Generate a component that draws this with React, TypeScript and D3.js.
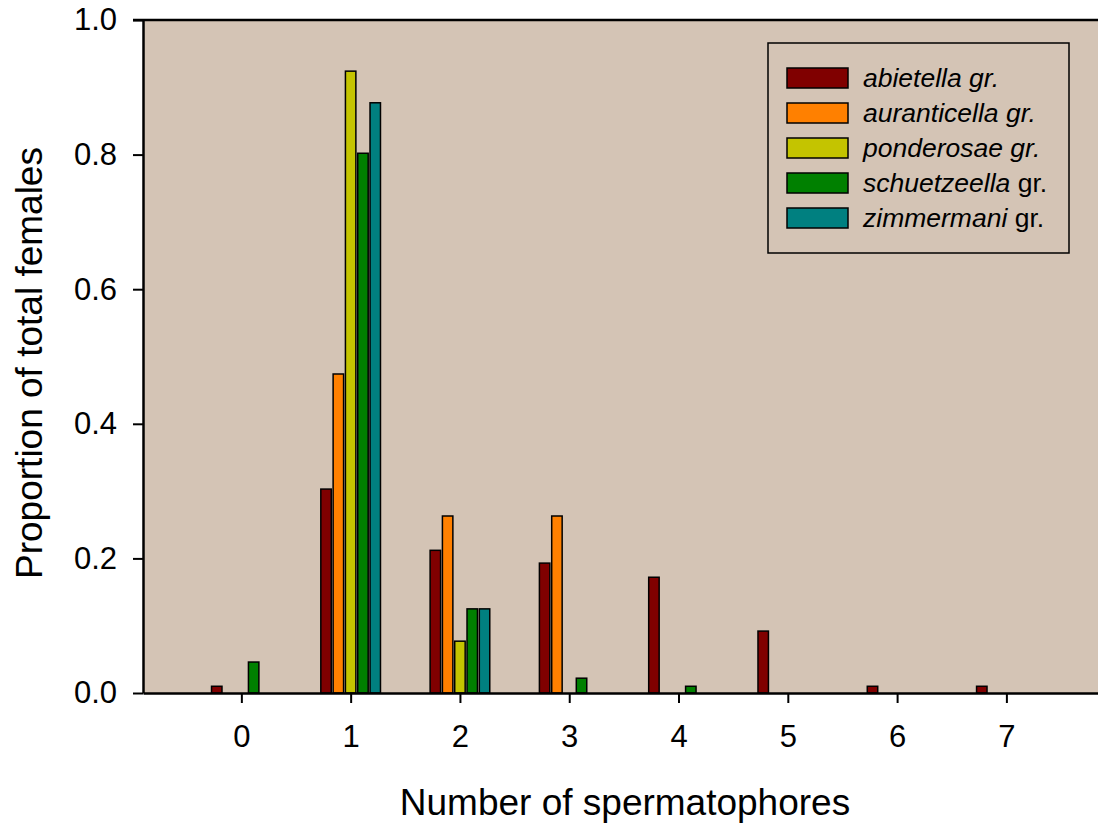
import { useEffect, useRef } from "react";
import * as d3 from "d3";

// Number of spermatophores (x categories)
const counts = [0, 1, 2, 3, 4, 5, 6, 7];
const yTicks = [0, 0.2, 0.4, 0.6, 0.8, 1.0];

const seriesNames = ["abietella", "auranticella", "ponderosae", "schuetzeella", "zimmermani"];
const seriesColors = ["#800000", "#ff8000", "#c4c400", "#008000", "#008080"];
// whether " gr." is italic too
const grItalic = [true, true, true, false, false];

const abietella = [0.01, 0.303, 0.212, 0.193, 0.172, 0.092, 0.01, 0.01];
const auranticella = [0, 0.474, 0.263, 0.263, 0, 0, 0, 0];
const ponderosae = [0, 0.924, 0.077, 0, 0, 0, 0, 0];
const schuetzeella = [0.046, 0.802, 0.125, 0.022, 0.01, 0, 0, 0];
const zimmermani = [0, 0.877, 0.125, 0, 0, 0, 0, 0];

const allValues = [abietella, auranticella, ponderosae, schuetzeella, zimmermani];

const FONT = "'Liberation Sans', Arial, Helvetica, sans-serif";

export default function App() {
    const svgRef = useRef<SVGSVGElement | null>(null);

    useEffect(() => {
        const width = 1098;
        const height = 827;
        const marginLeft = 143;
        const marginTop = 20;
        const plotBottom = 693;

        const svg = d3.select(svgRef.current)
            .attr("width", width)
            .attr("height", height)
            .attr("viewBox", `0 0 ${width} ${height}`);
        svg.selectAll("*").remove();

        // Scales
        const x = d3.scaleLinear()
            .domain([-0.9, 7.9])
            .range([marginLeft, marginLeft + 8.8 * 109.29]);

        const y = d3.scaleLinear()
            .domain([0, 1])
            .range([plotBottom, marginTop]);

        const step = 12.3;
        const inner = d3.scaleBand<string>()
            .domain(seriesNames)
            .range([-2.5 * step, 2.5 * step])
            .paddingInner(0.15)
            .paddingOuter(0.075);

        // Background
        svg.append("rect")
            .attr("x", marginLeft)
            .attr("y", marginTop)
            .attr("width", x.range()[1] - marginLeft)
            .attr("height", plotBottom - marginTop)
            .attr("fill", "#d4c4b5");

        // Bars
        const bars = svg.append("g");
        seriesNames.forEach((name, si) => {
            bars.selectAll(`.bar-${si}`)
                .data(counts.map((c, i) => ({ c, v: allValues[si][i] })).filter(d => d.v > 0))
                .enter()
                .append("rect")
                .attr("x", d => x(d.c) + (inner(name) as number))
                .attr("y", d => y(d.v))
                .attr("width", inner.bandwidth())
                .attr("height", d => plotBottom - y(d.v))
                .attr("fill", seriesColors[si])
                .attr("stroke", "#000")
                .attr("stroke-width", 1.5);
        });

        // Y axis
        const yAxis = svg.append("g")
            .attr("transform", `translate(${marginLeft},0)`)
            .call(d3.axisLeft(y).tickValues(yTicks).tickFormat(d3.format(".1f")).tickSize(10).tickSizeOuter(0).tickPadding(16));
        yAxis.select(".domain").attr("stroke-width", 2.5);
        yAxis.selectAll(".tick line").attr("stroke-width", 2);
        yAxis.selectAll(".tick text")
            .attr("font-family", FONT)
            .attr("font-size", 31)
            .attr("fill", "#000");

        // X axis
        const xAxis = svg.append("g")
            .attr("transform", `translate(0,${plotBottom})`)
            .call(d3.axisBottom(x).tickValues(counts).tickFormat(d3.format("d")).tickSize(10).tickSizeOuter(0).tickPadding(22));
        xAxis.select(".domain").attr("stroke-width", 2.5);
        xAxis.selectAll(".tick line").attr("stroke-width", 2);
        xAxis.selectAll(".tick text")
            .attr("font-family", FONT)
            .attr("font-size", 31)
            .attr("fill", "#000");

        // top frame line
        svg.append("line")
            .attr("x1", marginLeft - 10)
            .attr("x2", width)
            .attr("y1", marginTop)
            .attr("y2", marginTop)
            .attr("stroke", "#000")
            .attr("stroke-width", 2.5);

        // Axis titles
        svg.append("text")
            .attr("x", 625)
            .attr("y", 815)
            .attr("text-anchor", "middle")
            .attr("font-family", FONT)
            .attr("font-size", 37)
            .text("Number of spermatophores");

        svg.append("text")
            .attr("transform", `translate(42,363) rotate(-90)`)
            .attr("text-anchor", "middle")
            .attr("font-family", FONT)
            .attr("font-size", 37)
            .text("Proportion of total females");

        // Legend
        const legend = svg.append("g");
        legend.append("rect")
            .attr("x", 768)
            .attr("y", 43)
            .attr("width", 301)
            .attr("height", 210)
            .attr("fill", "none")
            .attr("stroke", "#000")
            .attr("stroke-width", 1.5);

        seriesNames.forEach((name, i) => {
            const row = legend.append("g").attr("transform", `translate(787,${68 + i * 35})`);
            row.append("rect")
                .attr("width", 61)
                .attr("height", 20)
                .attr("fill", seriesColors[i])
                .attr("stroke", "#000")
                .attr("stroke-width", 1.5);
            const t = row.append("text")
                .attr("x", 76)
                .attr("y", 19)
                .attr("font-family", FONT)
                .attr("font-size", 26.5);
            t.append("tspan").attr("font-style", "italic").text(name);
            t.append("tspan").attr("font-style", grItalic[i] ? "italic" : "normal").text(" gr.");
        });
    }, []);

    return (
        <div style={{ position: "absolute", left: 0, top: 0 }}>
            <svg ref={svgRef} style={{ display: "block", background: "#fff" }} />
        </div>
    );
}
